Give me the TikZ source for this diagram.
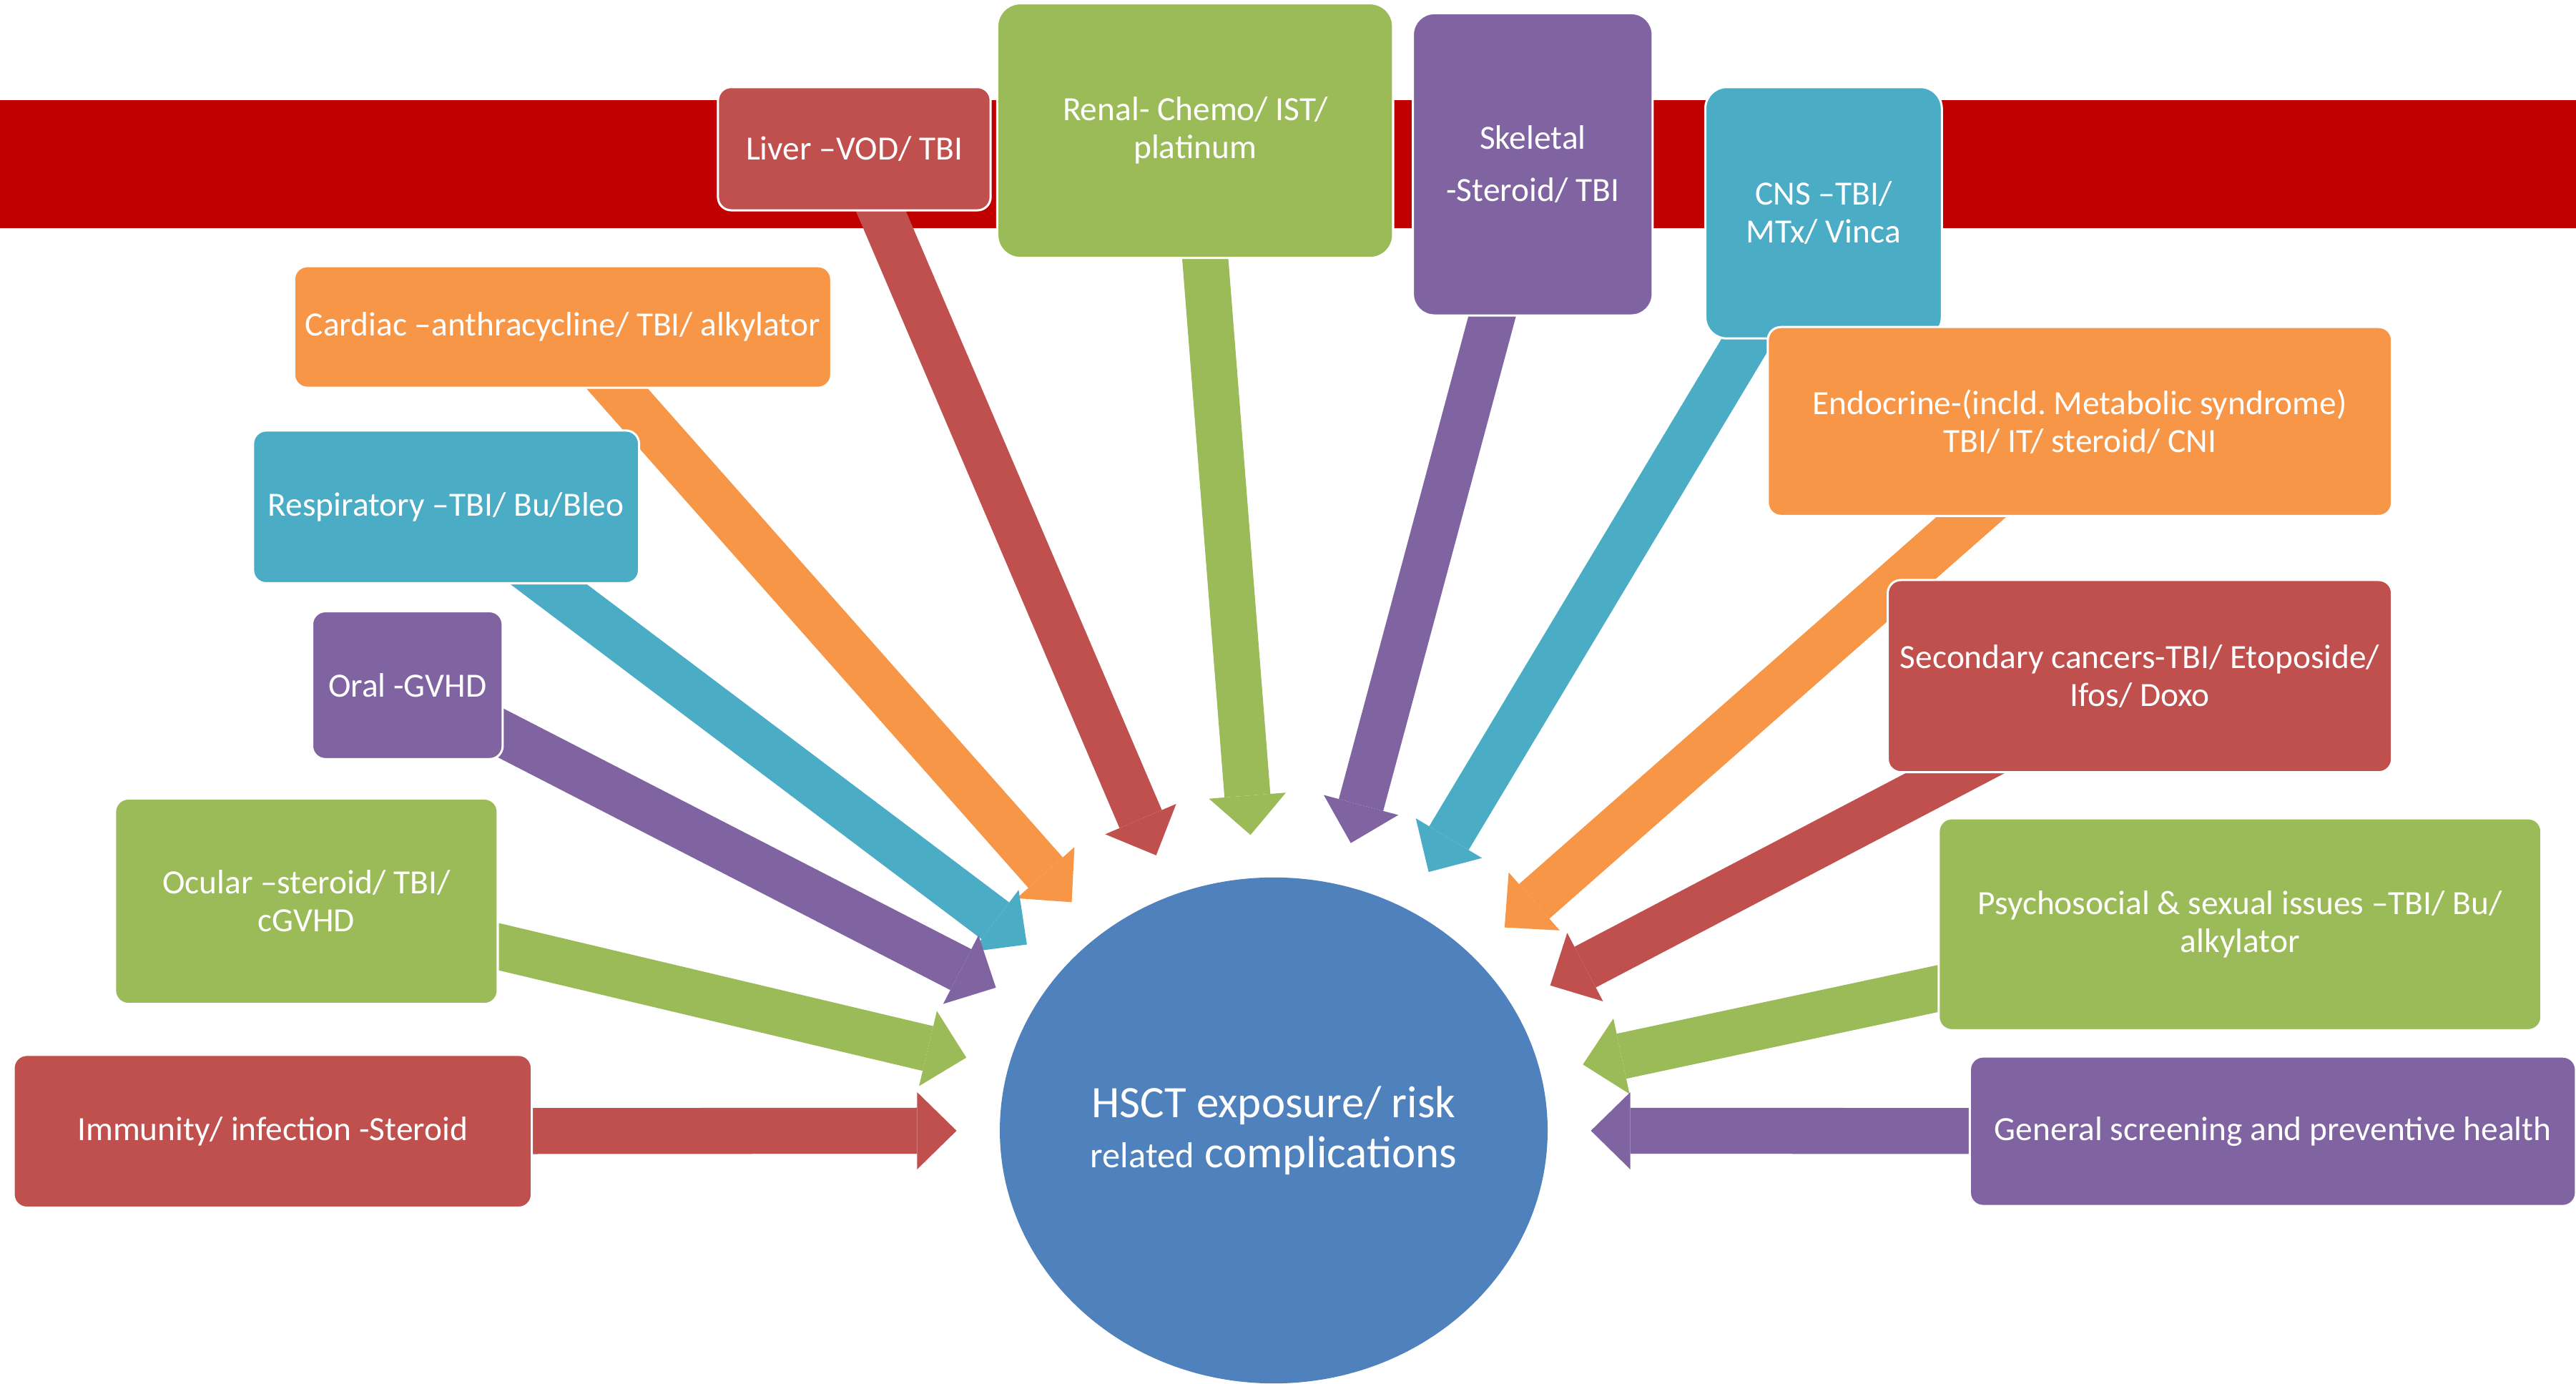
\documentclass[tikz,border=0pt]{standalone}
\usepackage{fontspec}
\setmainfont{Carlito}
\usetikzlibrary{arrows.meta,shapes.geometric}
\definecolor{riskred}{HTML}{C0504D}
\definecolor{riskgreen}{HTML}{9BBB59}
\definecolor{riskpurple}{HTML}{8064A2}
\definecolor{riskblue}{HTML}{4BACC6}
\definecolor{riskorange}{HTML}{F79646}
\definecolor{coreblue}{HTML}{4F81BD}
\definecolor{bandred}{HTML}{C00000}
\pgfdeclarelayer{bandlayer}
\pgfdeclarelayer{arrowlayer}
\pgfsetlayers{bandlayer,arrowlayer,main}
\frenchspacing
\tikzset{
  riskbox/.style = {
    rectangle,
    draw=white,
    line width=0.75pt,
    rounded corners=1.6mm,
    align=center,
    text=white,
    inner sep=1pt,
    font=\fontsize{11.75}{13.1}\selectfont
  },
  riskcore/.style = {
    ellipse,
    fill=coreblue,
    align=center,
    text=white,
    inner sep=0pt,
    minimum width=6.67cm,
    minimum height=6.16cm,
    font=\fontsize{15.6}{17.4}\selectfont
  },
  riskarrow/.style = {
    line width=5.6mm,
    -{Triangle[width=9.4mm,length=4.8mm,line width=0pt 0]},
    shorten >=5.2mm,
    shorten <=-6mm
  }
}

\begin{document}
\begin{tikzpicture}[x=0.02cm, y=-0.02cm]
    \useasboundingbox (0,0) rectangle (1568,842);
    \begin{pgfonlayer}{bandlayer}
      \fill[bandred] (0,61) rectangle (1568,139);
    \end{pgfonlayer}
    \node[riskcore] (hsct) at (775.3,688) {HSCT exposure/ risk\\{\fontsize{12.5}{14}\selectfont related} complications};
    \node[riskbox, fill=riskred, minimum width=3.32cm, minimum height=1.5cm] (liver) at (520,90.5) {Liver –VOD/ TBI};
    \node[riskbox, fill=riskgreen, rounded corners=2.8mm, minimum width=4.82cm, minimum height=3.1cm] (renal) at (727.5,79.5) {Renal- Chemo/ IST/\\platinum};
    \node[riskbox, fill=riskpurple, rounded corners=2.6mm, minimum width=2.92cm, minimum height=3.68cm] (skeletal) at (933,100) {Skeletal\\[0.18cm]-Steroid/ TBI};
    \node[riskbox, fill=riskblue, rounded corners=2.6mm, minimum width=2.88cm, minimum height=3.06cm] (cns) at (1110,129.5) {CNS –TBI/\\MTx/ Vinca};
    \node[riskbox, fill=riskorange, minimum width=6.54cm, minimum height=1.48cm] (cardiac) at (342.5,199) {Cardiac –anthracycline/ TBI/ alkylator};
    \node[riskbox, fill=riskorange, minimum width=7.6cm, minimum height=2.3cm] (endocrine) at (1266,256.5) {Endocrine-(incld. Metabolic syndrome)\\TBI/ IT/ steroid/ CNI};
    \node[riskbox, fill=riskblue, minimum width=4.7cm, minimum height=1.86cm] (resp) at (271.5,308.5) {Respiratory –TBI/ Bu/Bleo};
    \node[riskbox, fill=riskpurple, minimum width=2.32cm, minimum height=1.8cm] (oral) at (248,417) {Oral -GVHD};
    \node[riskbox, fill=riskred, minimum width=6.14cm, minimum height=2.34cm] (secondary) at (1302.5,411.5) {Secondary cancers-TBI/ Etoposide/\\Ifos/ Doxo};
    \node[riskbox, fill=riskgreen, minimum width=4.66cm, minimum height=2.5cm] (ocular) at (186.5,548.5) {Ocular –steroid/ TBI/\\cGVHD};
    \node[riskbox, fill=riskgreen, minimum width=7.34cm, minimum height=2.58cm] (psycho) at (1363.5,562.5) {Psychosocial \& sexual issues –TBI/ Bu/\\alkylator};
    \node[riskbox, fill=riskred, minimum width=6.31cm, minimum height=1.86cm] (immunity) at (166,688.5) {Immunity/ infection -Steroid};
    \node[riskbox, fill=riskpurple, minimum width=7.38cm, minimum height=1.82cm] (general) at (1383.5,688.5) {General screening and preventive health};
    \begin{pgfonlayer}{arrowlayer}
      \draw[riskarrow, riskred] (liver) -- (hsct);
      \draw[riskarrow, riskgreen] (renal) -- (hsct);
      \draw[riskarrow, riskpurple] (skeletal) -- (hsct);
      \draw[riskarrow, riskblue] (cns) -- (hsct);
      \draw[riskarrow, riskorange] (cardiac) -- (hsct);
      \draw[riskarrow, riskorange] (endocrine) -- (hsct);
      \draw[riskarrow, riskblue] (resp) -- (hsct);
      \draw[riskarrow, riskpurple] (oral) -- (hsct);
      \draw[riskarrow, riskred] (secondary) -- (hsct);
      \draw[riskarrow, riskgreen] (ocular) -- (hsct);
      \draw[riskarrow, riskgreen] (psycho) -- (hsct);
      \draw[riskarrow, riskred] (immunity) -- (hsct);
      \draw[riskarrow, riskpurple] (general) -- (hsct);
    \end{pgfonlayer}
\end{tikzpicture}
\end{document}
